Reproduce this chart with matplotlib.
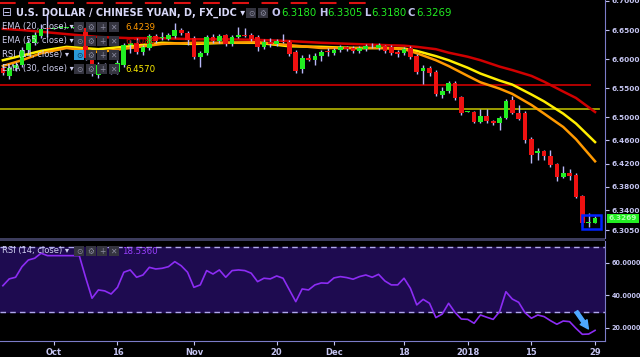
import numpy as np
import matplotlib.pyplot as plt
from matplotlib.patches import Rectangle

# ---- data ----
opens = [6.585, 6.570, 6.585, 6.590, 6.615, 6.628, 6.640, 6.654, 6.652, 6.654,
         6.654, 6.654, 6.654, 6.654, 6.610, 6.573, 6.590, 6.589, 6.578, 6.590,
         6.624, 6.628, 6.612, 6.619, 6.640, 6.636, 6.635, 6.640, 6.650, 6.645,
         6.636, 6.603, 6.610, 6.638, 6.631, 6.641, 6.626, 6.638, 6.641, 6.641,
         6.638, 6.621, 6.629, 6.626, 6.631, 6.629, 6.612, 6.583, 6.602, 6.598,
         6.605, 6.6125, 6.610, 6.616, 6.620, 6.619, 6.614, 6.617, 6.623, 6.619,
         6.622, 6.621, 6.612, 6.610, 6.619, 6.605, 6.579, 6.585, 6.578, 6.538,
         6.545, 6.559, 6.534, 6.509, 6.509, 6.491, 6.502, 6.493, 6.489, 6.499,
         6.529, 6.507, 6.507, 6.462, 6.438, 6.441, 6.433, 6.419, 6.397, 6.404,
         6.400, 6.364, 6.318, 6.318]
highs = [6.590, 6.588, 6.595, 6.620, 6.634, 6.646, 6.660, 6.679, 6.655, 6.655,
         6.655, 6.655, 6.655, 6.656, 6.615, 6.595, 6.594, 6.592, 6.598, 6.628,
         6.632, 6.636, 6.624, 6.643, 6.643, 6.647, 6.645, 6.662, 6.653, 6.648,
         6.640, 6.614, 6.641, 6.643, 6.643, 6.644, 6.641, 6.655, 6.653, 6.645,
         6.641, 6.635, 6.636, 6.634, 6.643, 6.632, 6.615, 6.607, 6.609, 6.611,
         6.616, 6.619, 6.619, 6.624, 6.623, 6.622, 6.622, 6.626, 6.627, 6.627,
         6.625, 6.624, 6.615, 6.620, 6.622, 6.608, 6.590, 6.588, 6.581, 6.552,
         6.562, 6.562, 6.537, 6.510, 6.511, 6.514, 6.514, 6.495, 6.502, 6.532,
         6.536, 6.521, 6.510, 6.465, 6.446, 6.444, 6.443, 6.421, 6.416, 6.410,
         6.403, 6.366, 6.335, 6.3305]
lows = [6.572, 6.566, 6.580, 6.586, 6.610, 6.624, 6.636, 6.638, 6.652, 6.653,
        6.653, 6.653, 6.653, 6.598, 6.570, 6.568, 6.578, 6.574, 6.575, 6.586,
        6.610, 6.608, 6.607, 6.615, 6.628, 6.632, 6.632, 6.637, 6.642, 6.624,
        6.600, 6.586, 6.607, 6.628, 6.628, 6.623, 6.623, 6.636, 6.638, 6.631,
        6.614, 6.618, 6.621, 6.623, 6.628, 6.606, 6.576, 6.576, 6.596, 6.590,
        6.597, 6.605, 6.607, 6.613, 6.614, 6.611, 6.611, 6.614, 6.619, 6.616,
        6.611, 6.607, 6.604, 6.607, 6.600, 6.574, 6.557, 6.571, 6.537, 6.533,
        6.542, 6.530, 6.503, 6.508, 6.489, 6.489, 6.490, 6.486, 6.478, 6.497,
        6.505, 6.495, 6.455, 6.421, 6.426, 6.426, 6.414, 6.390, 6.395, 6.391,
        6.360, 6.312, 6.311, 6.318]
closes = [6.576, 6.585, 6.590, 6.615, 6.628, 6.642, 6.652, 6.652, 6.654, 6.654,
          6.654, 6.654, 6.654, 6.602, 6.576, 6.590, 6.582, 6.578, 6.593, 6.624,
          6.628, 6.612, 6.621, 6.640, 6.631, 6.637, 6.641, 6.650, 6.645, 6.633,
          6.603, 6.610, 6.638, 6.631, 6.640, 6.626, 6.638, 6.641, 6.640, 6.634,
          6.621, 6.629, 6.626, 6.631, 6.629, 6.609, 6.579, 6.602, 6.598, 6.605,
          6.612, 6.612, 6.616, 6.621, 6.617, 6.614, 6.619, 6.622, 6.622, 6.624,
          6.614, 6.610, 6.609, 6.617, 6.603, 6.578, 6.584, 6.576, 6.540, 6.545,
          6.559, 6.533, 6.507, 6.509, 6.491, 6.502, 6.493, 6.490, 6.499, 6.528,
          6.507, 6.497, 6.461, 6.435, 6.441, 6.433, 6.417, 6.397, 6.404, 6.399,
          6.362, 6.318, 6.319, 6.3269]

rsi = [46.0, 50.2, 51.2, 57.7, 61.8, 62.9, 66.0, 64.5, 64.5, 64.5,
       64.5, 64.5, 64.5, 51.0, 38.3, 43.4, 42.8, 40.9, 45.0, 54.3,
       55.7, 51.2, 52.6, 57.3, 56.3, 56.7, 57.7, 60.8, 58.3, 54.3,
       45.0, 46.5, 55.3, 53.2, 55.7, 51.2, 55.3, 55.7, 55.3, 53.7,
       48.5, 50.6, 50.2, 52.0, 50.6, 43.4, 36.2, 44.0, 43.4, 46.5,
       47.7, 47.5, 50.8, 51.6, 51.0, 50.0, 51.6, 52.6, 51.2, 53.0,
       48.9, 46.5, 46.5, 50.6, 44.4, 34.2, 37.6, 35.2, 26.4, 28.6,
       35.2, 29.6, 25.5, 25.3, 22.9, 28.0, 26.6, 25.3, 30.0, 42.3,
       37.8, 35.8, 29.4, 26.0, 28.0, 27.0, 24.5, 22.3, 24.3, 23.9,
       19.8, 16.1, 16.3, 18.536]

ema_idx = [0, 3, 6, 10, 15, 20, 25, 30, 35, 40, 45, 50, 55, 60, 63, 65, 68,
           70, 73, 75, 78, 80, 83, 85, 88, 90, 93]
ema20 = [6.588, 6.598, 6.610, 6.619, 6.612, 6.619, 6.626, 6.628, 6.628, 6.629,
         6.624, 6.619, 6.619, 6.619, 6.617, 6.610, 6.598, 6.588, 6.571, 6.560,
         6.549, 6.540, 6.521, 6.506, 6.483, 6.462, 6.4239]
ema30 = [6.598, 6.606, 6.614, 6.621, 6.617, 6.622, 6.628, 6.626, 6.628, 6.628,
         6.622, 6.621, 6.619, 6.619, 6.618, 6.614, 6.605, 6.598, 6.585, 6.575,
         6.563, 6.556, 6.539, 6.527, 6.506, 6.489, 6.4570]
ema55 = [6.652, 6.650, 6.647, 6.643, 6.638, 6.636, 6.636, 6.634, 6.634, 6.633,
         6.631, 6.628, 6.626, 6.624, 6.623, 6.621, 6.617, 6.611, 6.604, 6.598,
         6.587, 6.581, 6.571, 6.561, 6.544, 6.533, 6.5088]

date_pos = [8, 18, 30, 43, 52, 63, 73, 83, 93]
date_labels = ['Oct', '16', 'Nov', '20', 'Dec', '18', '2018', '15', '29']
price_ticks = [6.70, 6.65, 6.60, 6.55, 6.50, 6.46, 6.42, 6.38, 6.34, 6.305]
rsi_ticks = [60, 40, 20]
red_level = 6.555
yellow_level = 6.514
top_dash_level = 6.6965
top_dash_end = 57.4

####

W, H = 640, 357
fg = '#c4c4f0'
up_col = '#22ee22'
dn_col = '#ee1111'

n = len(closes)
x = np.arange(n)
o = np.array(opens); c = np.array(closes)
hi = np.array(highs); lo = np.array(lows)

fig = plt.figure(figsize=(W / 100, H / 100), dpi=100, facecolor='black')

def fx(px):
    return px / W

def fy(py):
    return 1 - py / H

ax = fig.add_axes([0, fy(238), fx(605), 238 / H], facecolor='black')
ax2 = fig.add_axes([0, fy(341), fx(605), 100 / H], facecolor='black', sharex=ax)

# candles
cols = np.where(c >= o, up_col, dn_col)
body_lo = np.minimum(o, c)
body_h = np.maximum(np.abs(c - o), 0.0012)
ax.vlines(x, lo, hi, color='#b8b8f8', lw=1.0, zorder=3)
ax.bar(x, body_h, bottom=body_lo, width=0.74, color=cols, zorder=4)

# EMAs
ax.plot(ema_idx, ema55, color='#d00000', lw=1.8, zorder=2)
ax.plot(ema_idx, ema30, color='#ffee00', lw=1.8, zorder=2)
ax.plot(ema_idx, ema20, color='#ff9900', lw=1.8, zorder=2)

# drawings
ax.axhline(red_level, xmax=0.975, color='#c00000', lw=1.3, zorder=1)
ax.axhline(yellow_level, xmax=0.99, color='#a8a800', lw=1.3, zorder=1)
ax.plot([-1, top_dash_end], [top_dash_level] * 2, color='#dd1111', lw=1.5,
        dashes=(8, 6), zorder=1)
ax.add_patch(Rectangle((n - 3.0, lo[-2] - 0.004), 3.0,
                       hi[-1] - lo[-2] + 0.0055, fill=False,
                       ec='#0022ff', lw=1.8, zorder=5))

ax.set_xlim(-0.45, n - 1 + 1.56)
ax.set_ylim(6.2918, 6.7017)
ax.yaxis.tick_right()
ax.set_yticks(price_ticks)
ax.set_yticklabels(['%.4f' % v for v in price_ticks])
ax.tick_params(axis='y', colors=fg, labelsize=5.3, length=3, pad=1.5,
               width=0.8)
for lb in ax.get_yticklabels():
    lb.set_fontweight('bold')
ax.tick_params(axis='x', bottom=False, labelbottom=False)
for s in ['top', 'left', 'bottom']:
    ax.spines[s].set_visible(False)
ax.spines['right'].set_color('#7c7cc8')

# last price tag
ax.text(1.006, closes[-1] - 0.0015, '%.4f' % closes[-1],
        transform=ax.get_yaxis_transform(),
        ha='left', va='center', fontsize=5.3, color='#b0ffb0', fontweight='bold',
        bbox=dict(boxstyle='square,pad=0.25', fc='#22ee22', ec='none'),
        clip_on=False, zorder=6)

# RSI panel
ax2.axhspan(30, 70, color='#1e0b50', zorder=0)
ax2.axhline(70, color='#b0a8ec', lw=1.0, dashes=(4, 3))
ax2.axhline(30, color='#b0a8ec', lw=1.0, dashes=(4, 3))
ax2.plot(x, rsi, color='#8c2cf4', lw=1.2, zorder=3)
ax2.annotate('', xy=(n - 1.8, 18.0), xytext=(n - 4.2, 31.5),
             arrowprops=dict(arrowstyle='simple,head_width=0.6,head_length=0.6,tail_width=0.25',
                             fc='#4ea8ff', ec='#4ea8ff'))
ax2.set_ylim(12.0, 73.5)
ax2.yaxis.tick_right()
ax2.set_yticks(rsi_ticks)
ax2.set_yticklabels(['%.4f' % v for v in rsi_ticks])
ax2.tick_params(axis='y', colors=fg, labelsize=4.7, length=3, pad=1.5, width=0.8)
ax2.set_xticks(date_pos)
ax2.set_xticklabels(date_labels)
ax2.tick_params(axis='x', colors=fg, labelsize=6.0, length=3, pad=2, width=0.8)
for lb in ax2.get_yticklabels() + ax2.get_xticklabels():
    lb.set_fontweight('bold')
for s in ['top', 'left']:
    ax2.spines[s].set_visible(False)
ax2.spines['right'].set_color('#7c7cc8')
ax2.spines['bottom'].set_color('#7c7cc8')

# separator between panes
fig.patches.append(Rectangle((0, fy(241)), fx(605), 3 / H, transform=fig.transFigure,
                             fc='#3c3c5c', ec='none'))

# header
fig.text(fx(2), fy(13), '\u229f', color=fg, fontsize=8.5, va='center')
fig.text(fx(16), fy(13), 'U.S. DOLLAR / CHINESE YUAN, D, FX_IDC \u25be',
         color='#d8d8f8', fontsize=7.0, fontweight='bold', va='center')

def icon_box(px, py, sym, fc='#34343f', col='#8a8aa0'):
    fig.patches.append(Rectangle((fx(px), fy(py + 5)), 10 / W, 10 / H,
                                 transform=fig.transFigure, fc=fc, ec='none',
                                 zorder=5))
    fig.text(fx(px + 5), fy(py), sym, color=col, fontsize=5.5, ha='center',
             va='center', zorder=6)

icon_box(246, 13, '\u2299')
icon_box(258, 13, '\u2699')
fig.text(fx(272), fy(13), 'O', color=fg, fontsize=7.3, va='center', fontweight='bold')
fig.text(fx(281), fy(13), '%.4f' % opens[-1], color=up_col, fontsize=7.3, va='center')
fig.text(fx(319), fy(13), 'H', color=fg, fontsize=7.3, va='center', fontweight='bold')
fig.text(fx(327), fy(13), '%.4f' % highs[-1], color=up_col, fontsize=7.3, va='center')
fig.text(fx(364), fy(13), 'L', color=fg, fontsize=7.3, va='center', fontweight='bold')
fig.text(fx(371), fy(13), '%.4f' % lows[-1], color=up_col, fontsize=7.3, va='center')
fig.text(fx(408), fy(13), 'C', color=fg, fontsize=7.3, va='center', fontweight='bold')
fig.text(fx(416), fy(13), '%.4f' % closes[-1], color=up_col, fontsize=7.3, va='center')

def legend_row(py, label, value, vcol, first_hi=False, val_z=6):
    fig.text(fx(2), fy(py), label + ' \u25be', color='#d0d0f0', fontsize=6.0,
             va='center', zorder=6)
    syms = ['\u2299', '\u2699', '+', '\u2715']
    for k, s in enumerate(syms):
        if k == 0 and first_hi:
            icon_box(74 + 11.5 * k, py, s, fc='#2a9ad8', col='#103050')
        else:
            icon_box(74 + 11.5 * k, py, s)
    if value is not None:
        fig.text(fx(125), fy(py), value, color=vcol, fontsize=6.2, va='center',
                 zorder=val_z)

legend_row(27, 'EMA (20, close)', '%.4f' % ema20[-1], '#ff9900')
legend_row(41, 'EMA (55, close)', '%.4f' % ema55[-1], '#d00000', val_z=1)
legend_row(55, 'RSI (14, close)', None, None, first_hi=True)
legend_row(69, 'EMA (30, close)', '%.4f' % ema30[-1], '#ffee00')
legend_row(251, 'RSI (14, close)', None, None)
fig.text(fx(122), fy(251), '%.4f' % rsi[-1], color='#9a40ff', fontsize=6.2,
         va='center')

fig.savefig('out.png', dpi=100, facecolor='black')
